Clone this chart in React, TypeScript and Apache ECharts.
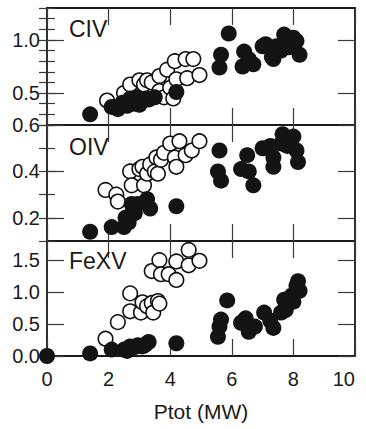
import React, { useEffect, useRef } from "react";
import * as echarts from "echarts";

// ---- tick labels ----
const xTicks = [0, 2, 4, 6, 8, 10];
const civTicks = [0.5, 1.0];
const oivTicks = [0.2, 0.4, 0.6];
const fexvTicks = [0.0, 0.5, 1.0, 1.5];
const panelNames = ["CIV", "OIV", "FeXV"];
const xName = "Ptot (MW)";

// ---- data: [Ptot, value] ----
const civFilled = [
  [1.4, 0.3], [2.1, 0.37], [2.3, 0.36], [2.45, 0.41], [2.6, 0.38], [2.7, 0.45], [2.8, 0.4],
  [2.9, 0.46], [3.0, 0.39], [3.1, 0.43], [3.2, 0.45], [3.3, 0.44], [3.5, 0.46], [4.2, 0.51],
  [5.6, 0.74], [5.65, 0.86], [5.9, 1.06], [6.35, 0.75], [6.4, 0.89], [6.55, 0.82], [6.7, 0.77],
  [7.0, 0.94], [7.1, 0.96], [7.3, 0.84], [7.35, 0.82], [7.45, 0.94], [7.6, 0.9], [7.7, 1.05],
  [7.85, 0.93], [7.9, 1.0], [8.0, 1.02], [8.1, 0.99], [8.2, 0.86],
];
const civOpen = [
  [1.95, 0.43], [2.3, 0.35], [2.5, 0.5], [2.7, 0.58], [3.0, 0.62], [3.15, 0.58], [3.25, 0.62],
  [3.4, 0.6], [3.65, 0.66], [3.65, 0.52], [3.8, 0.46], [3.9, 0.72], [4.0, 0.55], [4.1, 0.45],
  [4.15, 0.8], [4.2, 0.63], [4.5, 0.82], [4.55, 0.64], [4.75, 0.82], [4.95, 0.67],
];
const oivFilled = [
  [1.4, 0.14], [2.1, 0.16], [2.5, 0.16], [2.55, 0.2], [2.65, 0.18], [2.7, 0.21], [2.75, 0.26],
  [2.85, 0.22], [2.95, 0.26], [3.25, 0.28], [3.35, 0.24], [4.2, 0.25],
  [5.55, 0.4], [5.6, 0.49], [5.65, 0.36], [6.3, 0.41], [6.5, 0.47], [6.55, 0.4], [6.7, 0.34],
  [7.0, 0.5], [7.25, 0.51], [7.35, 0.46], [7.35, 0.42], [7.6, 0.52], [7.65, 0.56], [7.8, 0.51],
  [7.9, 0.53], [8.0, 0.55], [8.1, 0.49], [8.15, 0.44],
];
const oivOpen = [
  [1.9, 0.32], [2.25, 0.3], [2.3, 0.27], [2.7, 0.4], [2.75, 0.34], [3.0, 0.41], [3.1, 0.42],
  [3.15, 0.34], [3.25, 0.39], [3.35, 0.43], [3.5, 0.4], [3.55, 0.46], [3.6, 0.39], [3.7, 0.45],
  [3.8, 0.48], [4.0, 0.52], [4.15, 0.46], [4.2, 0.42], [4.3, 0.53], [4.5, 0.47], [4.7, 0.49],
  [4.95, 0.53],
];
const fexvFilled = [
  [0, 0], [1.4, 0.04], [2.1, 0.1], [2.5, 0.1], [2.6, 0.08], [2.7, 0.15], [2.85, 0.14],
  [2.95, 0.17], [3.1, 0.15], [3.2, 0.18], [3.3, 0.22], [4.2, 0.2],
  [5.55, 0.3], [5.6, 0.46], [5.65, 0.57], [5.85, 0.87], [6.3, 0.52], [6.45, 0.59], [6.55, 0.38],
  [6.75, 0.46], [7.05, 0.68], [7.25, 0.55], [7.35, 0.44], [7.6, 0.68], [7.7, 0.88], [7.75, 0.72],
  [7.8, 0.8], [7.95, 0.95], [8.0, 0.85], [8.1, 1.1], [8.15, 1.17], [8.2, 1.02],
];
const fexvOpen = [
  [1.9, 0.27], [2.3, 0.53], [2.7, 0.7], [2.7, 0.98], [3.05, 0.68], [3.1, 0.84], [3.25, 0.78],
  [3.4, 0.83], [3.45, 0.68], [3.6, 0.86], [3.65, 0.82], [3.4, 1.33], [3.65, 1.5], [3.7, 1.28],
  [3.95, 1.28], [4.2, 1.48], [4.2, 1.19], [4.6, 1.66], [4.6, 1.42], [4.95, 1.49],
];

const FONT = "Liberation Sans, Arial, Helvetica, sans-serif";
const LINE = "#1a1a1a";
const TICK = "#3a3a3a";

export default function App() {
  const ref = useRef<HTMLDivElement>(null);

  useEffect(() => {
    document.body.style.margin = "0";
    const chart = echarts.init(ref.current!, null, { renderer: "svg" });

    const panels = [
      { top: 8, height: 117, min: 0.2, max: 1.3, step: 0.1, ticks: civTicks, minor: true, filled: civFilled, open: civOpen, labelY: 28 },
      { top: 125, height: 116, min: 0.1, max: 0.6, step: 0.1, ticks: oivTicks, minor: true, filled: oivFilled, open: oivOpen, labelY: 146 },
      { top: 241, height: 115, min: 0, max: 1.8, step: 0.1, ticks: fexvTicks, minor: false, filled: fexvFilled, open: fexvOpen, labelY: 260 },
    ];

    const grid: any[] = [];
    const xAxis: any[] = [];
    const yAxis: any[] = [];
    const series: any[] = [];
    const graphic: any[] = [];

    panels.forEach((p, i) => {
      grid.push({ left: 47, right: 11, top: p.top, height: p.height, containLabel: false });
      const isLast = i === panels.length - 1;
      const xBase = {
        type: "value",
        gridIndex: i,
        min: xTicks[0],
        max: xTicks[xTicks.length - 1],
        interval: xTicks[1] - xTicks[0],
        splitLine: { show: false },
        axisLine: { show: true, onZero: false, lineStyle: { color: LINE, width: 1.8 } },
        axisTick: { show: true, inside: true, length: 17, lineStyle: { color: TICK, width: 1.2 } },
      };
      const bottomIdx = xAxis.length;
      xAxis.push({
        ...xBase,
        position: "bottom",
        axisLabel: {
          show: isLast,
          margin: 13,
          fontSize: 20,
          fontFamily: FONT,
          color: "#1a1a1a",
          alignMaxLabel: "right",
          formatter: (v: number) => String(v),
        },
        name: isLast ? xName : "",
        nameLocation: "middle",
        nameGap: 45,
        nameTextStyle: { fontSize: 21, fontFamily: FONT, color: "#1a1a1a" },
      });
      xAxis.push({ ...xBase, position: "top", axisLabel: { show: false } });

      const yBase = {
        type: "value",
        gridIndex: i,
        min: p.min,
        max: p.max,
        interval: p.step,
        splitLine: { show: false },
      };
      const mainIdx = yAxis.length;
      yAxis.push({
        ...yBase,
        position: "left",
        axisLine: { show: true, onZero: false, lineStyle: { color: LINE, width: 1.8 } },
        axisTick: { show: true, inside: true, length: 17, customValues: p.ticks, lineStyle: { color: TICK, width: 1.2 } },
        axisLabel: {
          show: true,
          customValues: p.ticks,
          margin: 7,
          fontSize: 20,
          fontFamily: FONT,
          color: "#1a1a1a",
          formatter: (v: number) => v.toFixed(1),
        },
      });
      yAxis.push({
        ...yBase,
        position: "right",
        axisLine: { show: true, onZero: false, lineStyle: { color: LINE, width: 1.8 } },
        axisTick: { show: true, inside: true, length: 17, customValues: p.ticks, lineStyle: { color: TICK, width: 1.2 } },
        axisLabel: { show: false },
      });
      if (p.minor) {
        ["left", "right"].forEach((pos) => {
          yAxis.push({
            ...yBase,
            position: pos,
            axisLine: { show: false },
            axisTick: { show: true, inside: true, length: 8, lineStyle: { color: TICK, width: 1.2 } },
            axisLabel: { show: false },
          });
        });
      }

      series.push({
        type: "scatter",
        xAxisIndex: bottomIdx,
        yAxisIndex: mainIdx,
        data: p.open,
        symbol: "circle",
        symbolSize: 14.5,
        clip: false,
        itemStyle: { color: "#ffffff", borderColor: "#111111", borderWidth: 1.6, opacity: 1 },
        z: 3,
      });
      series.push({
        type: "scatter",
        xAxisIndex: bottomIdx,
        yAxisIndex: mainIdx,
        data: p.filled,
        symbol: "circle",
        symbolSize: 16,
        clip: false,
        itemStyle: { color: "#141414", opacity: 1 },
        z: 4,
      });

      graphic.push({
        type: "text",
        left: 69,
        top: p.labelY - 11,
        style: { text: panelNames[i], fontSize: 23, fontFamily: FONT, fill: "#1a1a1a" },
        z: 10,
      });
    });

    chart.setOption({
      animation: false,
      backgroundColor: "#ffffff",
      grid,
      xAxis,
      yAxis,
      series,
      graphic,
    });
    return () => chart.dispose();
  }, []);

  return <div ref={ref} style={{ width: 366, height: 429 }} />;
}
